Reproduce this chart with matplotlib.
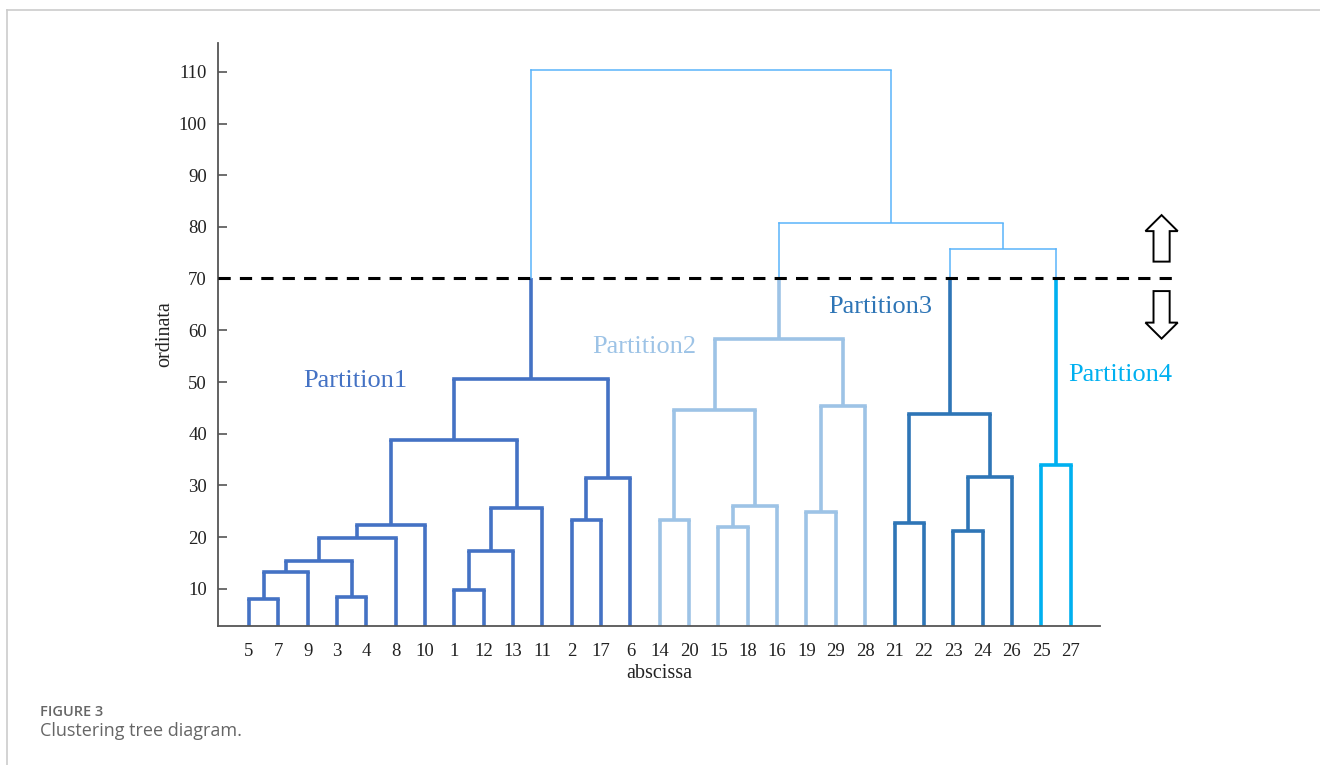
import matplotlib.pyplot as plt
from matplotlib.patches import FancyArrow
from matplotlib.lines import Line2D

# leaf order along the x axis
leaf_order = [5, 7, 9, 3, 4, 8, 10, 1, 12, 13, 11, 2, 17, 6, 14, 20, 15, 18, 16,
              19, 29, 28, 21, 22, 23, 24, 26, 25, 27]
n_leaves = 29

# linkage rows: left node, right node, merge height (internal node ids start at 30)
link_left = [5, 3, 1, 30, 33, 32, 34, 23, 15, 36, 21, 2, 14, 19, 35, 38, 41, 37,
             25, 39, 40, 42, 43, 49, 51, 50, 54, 53]
link_right = [7, 4, 12, 9, 31, 13, 8, 24, 18, 10, 22, 17, 20, 29, 11, 16, 6, 26,
              27, 44, 47, 45, 28, 46, 52, 48, 55, 56]
link_height = [8.1, 8.4, 9.8, 13.3, 15.4, 17.4, 19.9, 21.2, 22.0, 22.4, 22.8, 23.3,
               23.3, 24.9, 25.7, 26.0, 31.5, 31.7, 34.0, 38.8, 43.8, 44.6, 45.4,
               50.6, 58.4, 75.8, 80.8, 110.4]

cut_value = 70.2
partition_names = ['Partition1', 'Partition2', 'Partition3', 'Partition4']
partition_colors = ['#4472C4', '#9DC3E6', '#2E75B6', '#00B0F0']
top_color = '#5AB4FA'
label_pos_x = [4.64, 14.47, 22.5, 30.7]
label_pos_y = [50.2, 56.8, 64.5, 51.4]

# positions / heights of every node
xpos = {}
hgt = {}
for i, lab in enumerate(leaf_order):
    xpos[lab] = i + 1
    hgt[lab] = 0.0
children = {}
parent = {}
for k, (a, b, h) in enumerate(zip(link_left, link_right, link_height)):
    node = n_leaves + 1 + k
    xpos[node] = (xpos[a] + xpos[b]) / 2
    hgt[node] = h
    children[node] = (a, b)
    parent[a] = node
    parent[b] = node

# partition roots: below the cut, parent above it; ordered left to right
roots = [nd for nd in hgt if hgt[nd] < cut_value and nd in parent
         and hgt[parent[nd]] >= cut_value]
roots.sort(key=lambda nd: xpos[nd])
node_color = {}


def paint(nd, col):
    node_color[nd] = col
    if nd in children:
        for c in children[nd]:
            paint(c, col)


for r, col in zip(roots, partition_colors):
    paint(r, col)

fig = plt.figure(figsize=(13.2, 7.65), dpi=100)
ax = fig.add_axes([0.1652, 0.1817, 0.6681, 0.7621])

lw_thick = 2.6
lw_thin = 1.1
for nd, (a, b) in children.items():
    H = hgt[nd]
    up = H >= cut_value
    col = top_color if up else node_color[nd]
    ax.plot([xpos[a], xpos[b]], [H, H], color=col, lw=lw_thin if up else lw_thick,
            solid_capstyle='projecting')
    for c in (a, b):
        if up and hgt[c] < cut_value:
            ax.plot([xpos[c], xpos[c]], [hgt[c], cut_value], color=node_color[c],
                    lw=lw_thick, solid_capstyle='butt')
            ax.plot([xpos[c], xpos[c]], [cut_value, H], color=top_color, lw=lw_thin)
        else:
            ax.plot([xpos[c], xpos[c]], [hgt[c], H], color=col,
                    lw=lw_thin if up else lw_thick, solid_capstyle='butt')

# cut line
ax.plot([-0.05, 32.65], [cut_value, cut_value], color='black', lw=2.2,
        dashes=(4, 3), clip_on=False, zorder=5)

# hollow arrows
ax.add_patch(FancyArrow(32.1, 73.3, 0, 9.0, width=0.55, head_width=1.1,
                        head_length=3.1, length_includes_head=True,
                        facecolor='white', edgecolor='black', lw=1.4, clip_on=False))
ax.add_patch(FancyArrow(32.1, 67.6, 0, -9.2, width=0.55, head_width=1.1,
                        head_length=3.1, length_includes_head=True,
                        facecolor='white', edgecolor='black', lw=1.4, clip_on=False))

for name, col, px, py in zip(partition_names, partition_colors, label_pos_x, label_pos_y):
    ax.text(px, py, name, color=col, fontsize=19, family='Liberation Serif',
            ha='center', va='center', clip_on=False)

ax.set_xlim(-0.05, 30.0)
ax.set_ylim(2.8, 115.6)
ax.set_xticks(range(1, n_leaves + 1))
ax.set_xticklabels([str(v) for v in leaf_order], family='Liberation Serif', fontsize=13.5)
ax.set_yticks(range(10, 111, 10))
ax.set_yticklabels([str(v) for v in range(10, 111, 10)], family='Liberation Serif',
                   fontsize=13.5)
ax.tick_params(axis='x', length=0, pad=12, labelcolor='#222222')
ax.tick_params(axis='y', direction='in', length=6.5, width=1.2, pad=8,
               colors='#555555', labelcolor='#222222')
for s in ('top', 'right'):
    ax.spines[s].set_visible(False)
for s in ('left', 'bottom'):
    ax.spines[s].set_color('#555555')
    ax.spines[s].set_linewidth(1.3)
ax.set_xlabel('abscissa', family='Liberation Serif', fontsize=14.5, color='#222222',
              labelpad=3)
ax.set_ylabel('ordinata', family='Liberation Serif', fontsize=14.5, color='#222222',
              labelpad=3)

# page frame and caption
fig.add_artist(Line2D([7 / 1320, 1], [1 - 10 / 765, 1 - 10 / 765], color='#cccccc',
                      lw=1.2))
fig.add_artist(Line2D([7 / 1320, 7 / 1320], [0, 1 - 10 / 765], color='#cccccc', lw=1.2))
fig.text(40 / 1320, 1 - 712 / 765, 'FIGURE 3', fontsize=10.5, color='#666666',
         family='Open Sans', weight='semibold', va='center')
fig.text(40 / 1320, 1 - 731 / 765, 'Clustering tree diagram.', fontsize=13,
         color='#666666', family='Open Sans', va='center')

fig.savefig('out.png', dpi=100)
